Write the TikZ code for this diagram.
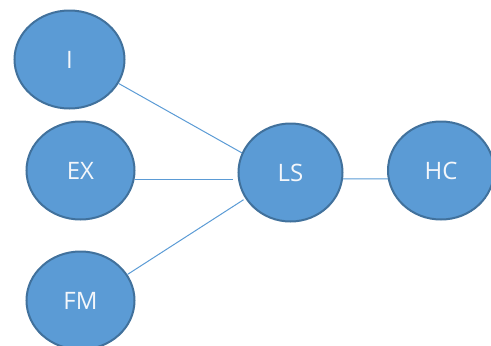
\documentclass[tikz,border=0pt]{standalone}
\usepackage{fontspec}
\setmainfont{Open Sans}
\usetikzlibrary{shapes.geometric}
\definecolor{ovalfill}{HTML}{5B9BD5}
\definecolor{ovaledge}{HTML}{41719C}
\definecolor{linkcol}{HTML}{5B9BD5}
\definecolor{txtcol}{HTML}{F4F7FB}
\tikzset{
  oval/.style={ellipse, draw=ovaledge, fill=ovalfill, line width=2pt, inner sep=0pt,
    minimum height=98pt, text=txtcol, font=\fontsize{24}{24}\selectfont},
  link/.style={draw=linkcol, line width=1pt}
}
\begin{document}
\begin{tikzpicture}[x=1pt,y=-1pt]
\useasboundingbox (0,0) rectangle (491,346);
\clip (0,0) rectangle (491,346);
\node[oval, minimum width=110pt] (I)  at (69.5,59.5)  {\raisebox{-1.5pt}{I}};
\node[oval, minimum width=108pt] (EX) at (80.5,170.5) {\raisebox{-1.5pt}{EX}};
\node[oval, minimum width=108pt] (FM) at (80.5,300.5) {\raisebox{-1.5pt}{FM}};
\node[oval, minimum width=104pt] (LS) at (290.5,172.5) {\raisebox{-1.5pt}{LS}};
\node[oval, minimum width=106pt] (HC) at (441,170.5) {\raisebox{-1.5pt}{HC}};
\draw[link] (I.-26.8) -- (LS.158.9);
\draw[link, shorten >=5pt] (EX.-9.4) -- (EX.-9.4 -| LS.west);
\draw[link, shorten >=2pt] (FM.29.2) -- (LS.210.2);
\draw[link] (LS.-7.6) -- (HC.189.5);
\end{tikzpicture}
\end{document}
